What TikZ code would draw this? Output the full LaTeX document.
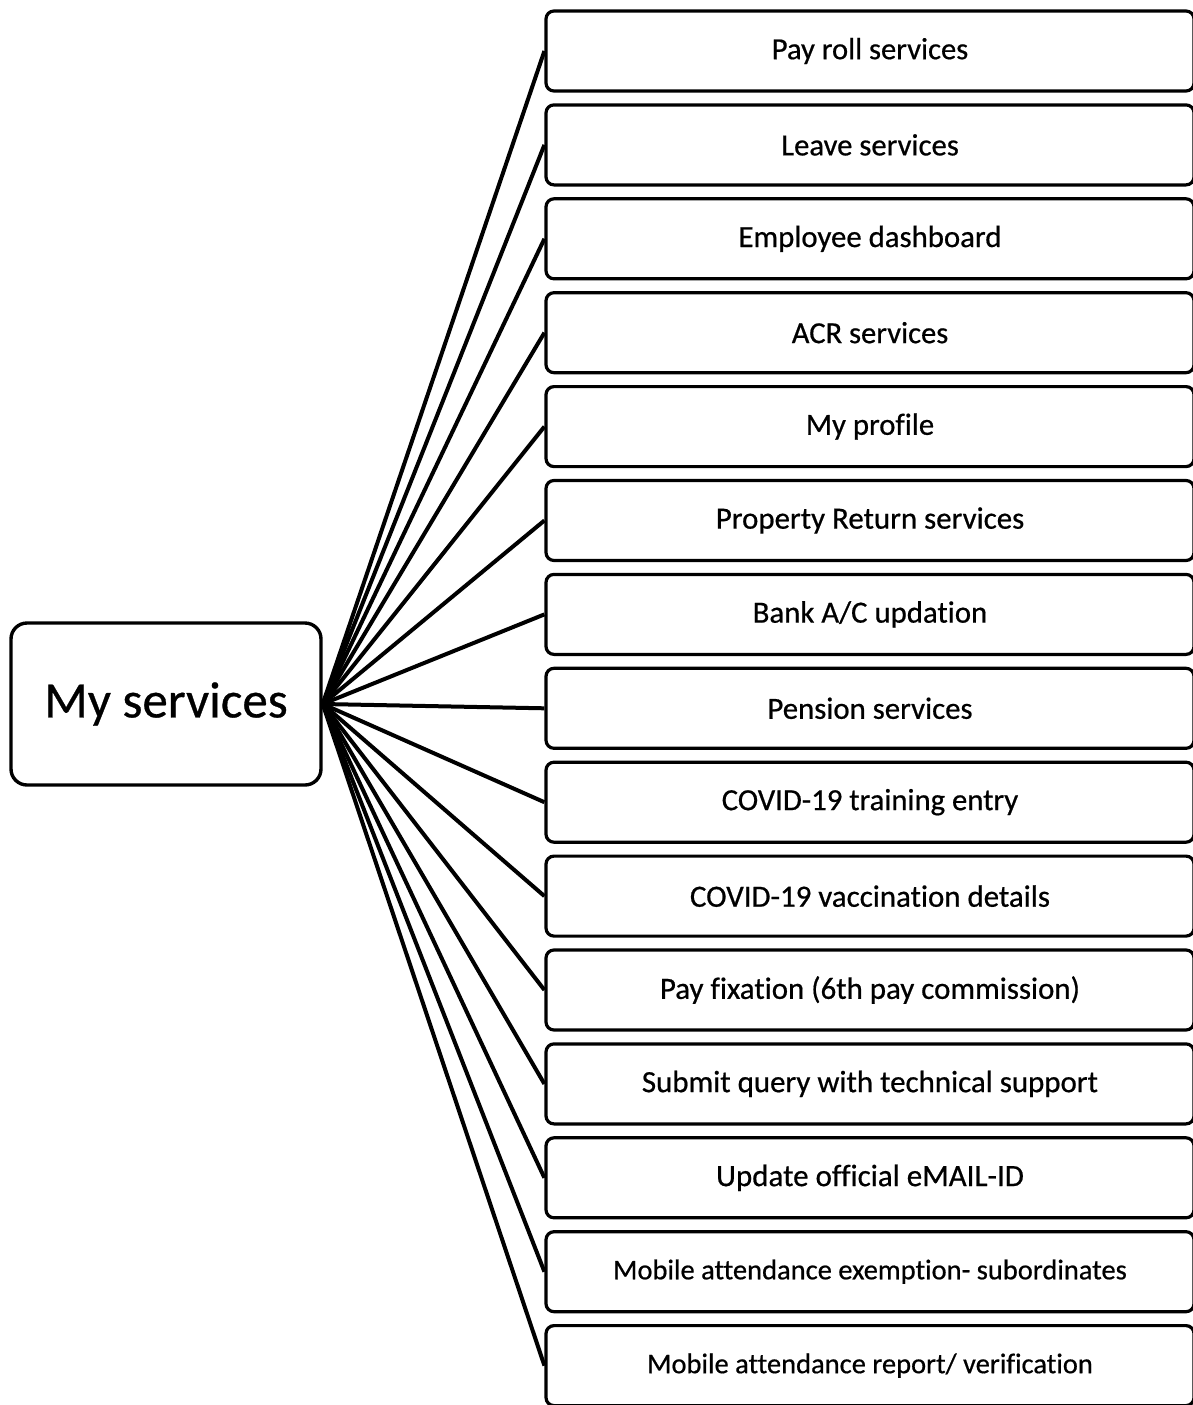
\documentclass[tikz,border=0pt]{standalone}
\usepackage{fontspec}
\setmainfont{Carlito}[Ligatures=NoCommon, FakeBold=0.6]
\begin{document}
\begin{tikzpicture}[x=1pt,y=-1pt,
  svc/.style={draw, line width=3.2pt, rounded corners=8pt, minimum width=648pt, minimum height=80pt, inner sep=0pt, fill=white},
  hub/.style={draw, line width=3.4pt, rounded corners=16pt, minimum width=310pt, minimum height=162pt, inner sep=0pt, font=\fontsize{51}{60}\selectfont},
  conn/.style={line width=4pt}]
\useasboundingbox (0,0) rectangle (1193,1405);
\clip (0,0) rectangle (1193,1405);
\fill[white] (0,0) rectangle (1193,1405);
\node[hub] (main) at (166,704) {My services};
\foreach \fs/\t [count=\i] in {30.6/{Pay roll services}, 30.7/{Leave services}, 30.8/{Employee dashboard}, 30.6/{ACR services}, 30.7/{My profile}, 30.9/{Property Return services}, 30.8/{Bank A/C updation}, 30.8/{Pension services}, 30.7/{COVID-19 training entry}, 30.9/{COVID-19 vaccination details}, 30.9/{Pay fixation (6th pay commission)}, 30.9/{Submit query with technical support}, 31/{Update official eMAIL-ID}, 28.5/{Mobile attendance exemption- subordinates}, 28.5/{Mobile attendance report/ verification}}{
  \node[svc, font=\fontsize{\fs}{34}\selectfont] (b\i) at (870, {51+93.9*(\i-1)}) {\t};
  \draw[conn] (main.east) -- (b\i.west);
}
\end{tikzpicture}
\end{document}
